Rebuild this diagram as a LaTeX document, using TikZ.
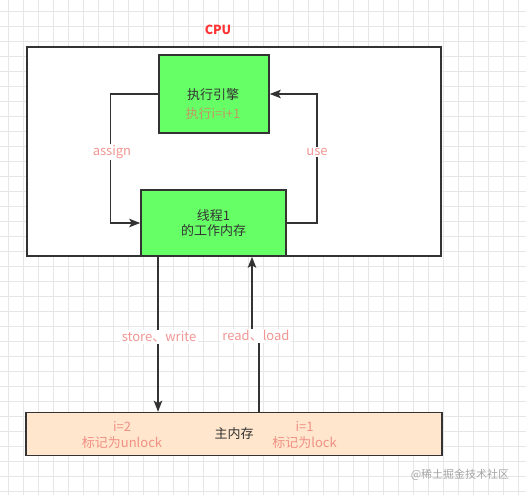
\documentclass[tikz,border=0pt]{standalone}
\usepackage{fontspec}
\setmainfont{Noto Sans CJK SC}
\usetikzlibrary{arrows.meta,positioning,calc}
\definecolor{linegray}{HTML}{333333}
\definecolor{boxgreen}{HTML}{66FF66}
\definecolor{peach}{HTML}{FFE6CC}
\definecolor{labelred}{HTML}{EA6B66}
\definecolor{cpured}{HTML}{FF3333}
\definecolor{gridgray}{HTML}{E6E6E6}

\begin{document}
\begin{tikzpicture}[x=1pt, y=-1pt,
  box/.style={draw=linegray, line width=1.6pt, align=center, inner sep=0pt, font=\fontsize{13}{15.5}\selectfont, text=linegray},
  lbl/.style={font=\fontsize{13}{15.5}\selectfont, text=labelred, text opacity=0.7, fill=white, inner sep=1.5pt},
  memtxt/.style={font=\fontsize{13}{16}\selectfont, text=labelred, text opacity=0.7},
  gridline/.style={draw=gridgray, line width=0.6pt},
  arrow/.style={-{Stealth[length=11pt, width=8.5pt, inset=2.5pt]}, line width=1.4pt, draw=linegray}
]
\useasboundingbox (0,0) rectangle (526,495);
\fill[white] (0,0) rectangle (526,495);

\foreach \gx in {0,...,34}
  \draw[gridline] (8.3+15*\gx,0) -- (8.3+15*\gx,495);
\foreach \gy in {0,...,32}
  \draw[gridline] (0,11.7+15*\gy) -- (526,11.7+15*\gy);

\node[font=\fontsize{12.5}{15}\selectfont\bfseries, text=cpured] (cpulbl) at (218,30) {CPU};
\node[box, fill=white, minimum width=414pt, minimum height=209pt] (cpu) at (234,151.5) {};

\node[box, fill=boxgreen, minimum width=110pt, minimum height=78pt] (exec) at (214,94) {};
\node[font=\fontsize{13}{15.5}\selectfont, text=linegray] (exectitle) at (213,95) {执行引擎};
\node[memtxt] (execop) at (213,114) {执行i=i+1};

\node[box, fill=boxgreen, minimum width=145pt, minimum height=66pt] (thread) at (213.5,223) {线程1\\的工作内存};

\node[box, fill=peach, minimum width=416pt, minimum height=43pt] (mem) at (234,434) {主内存};
\node[memtxt, align=center] (lockold) at (122,435) {i=2\\标记为unlock};
\node[memtxt, align=center] (locknew) at (304.5,435) {i=1\\标记为lock};

\draw[arrow] (exec.west) -- ++(-48,0) |- (thread.west);
\draw[arrow] (thread.east) -- ++(30,0) |- (exec.east);
\node[lbl] (assignlbl) at (112,152) {assign};
\node[lbl] (uselbl) at (317,152) {use};

\coordinate (storetop) at ([xshift=-55.5pt]thread.south);
\coordinate (readtop) at ([xshift=38.5pt]thread.south);
\coordinate (readbot) at ([xshift=25pt]mem.north);
\draw[arrow] (storetop) -- (storetop |- mem.north);
\draw[arrow] (readbot) |- (255,336) -| (readtop);
\node[lbl] (storelbl) at (159,337) {store、write};
\node[lbl] (readlbl) at (256,336) {read、load};

\node[font=\fontsize{11}{13}\selectfont, text=gray!70] (mark) at (460,475) {@稀土掘金技术社区};

\end{tikzpicture}
\end{document}
